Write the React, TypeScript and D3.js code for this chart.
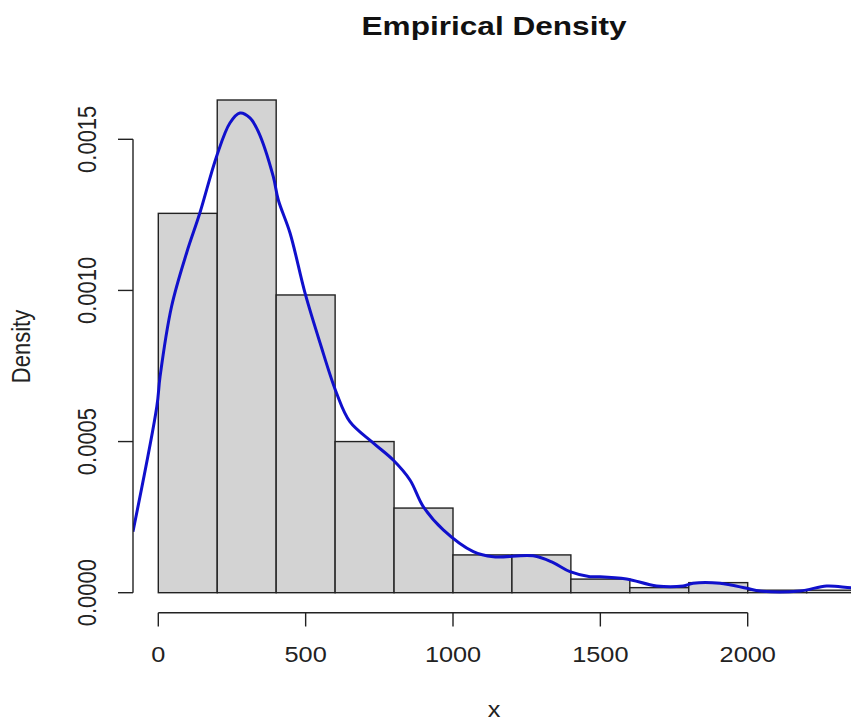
import React from "react";
import * as d3 from "d3";

// Histogram bins (lower edges) and densities
const binEdges = [0, 200, 400, 600, 800, 1000, 1200, 1400, 1600, 1800, 2000, 2200, 2400];
const binDensity = [0.001255, 0.00163, 0.000985, 0.0005, 0.00028, 0.000125, 0.000125, 0.000045, 0.0000167, 0.0000333, 0.0000083, 0.0000083];

// Kernel density estimate
const densityX = [-86, -5, 6, 45, 96, 141, 198, 243, 277, 311, 339, 390, 407, 447, 498, 549, 605, 650, 730, 797, 854, 899, 967, 1069, 1137, 1272, 1340, 1397, 1465, 1499, 1589, 1691, 1781, 1815, 1906, 1997, 2042, 2178, 2268, 2350, 2400];
const densityY = [0.000202, 0.000616, 0.000715, 0.000947, 0.001124, 0.001256, 0.001444, 0.001554, 0.001587, 0.001571, 0.001526, 0.001377, 0.0013, 0.00119, 0.000991, 0.000826, 0.00066, 0.000566, 0.000495, 0.000439, 0.000373, 0.000285, 0.000208, 0.000136, 0.000119, 0.000122, 0.0000993, 0.0000695, 0.000053, 0.000053, 0.0000454, 0.0000222, 0.0000222, 0.0000311, 0.0000311, 0.0000146, 0.0000056, 0.0000056, 0.0000222, 0.0000166, 0.000016];

const xTicks = [0, 500, 1000, 1500, 2000];
const yTicks = [0, 0.0005, 0.001, 0.0015];
const yTickLabels = ["0.0000", "0.0005", "0.0010", "0.0015"];

const title = "Empirical Density";
const xLabel = "x";
const yLabel = "Density";

export default function App() {
  const W = 851;
  const H = 720;
  const x = d3.scaleLinear().domain([0, 2000]).range([158.3, 747.7]);
  const y = d3.scaleLinear().domain([0, 0.0015]).range([592.7, 139.3]);
  const plotLeft = 133;
  const font = "'Liberation Sans', Arial, sans-serif";
  const sx = 1.15;

  const line = d3
    .line<number>()
    .x((_, i) => x(densityX[i]))
    .y((d) => y(d))
    .curve(d3.curveCatmullRom.alpha(0.5));

  return (
    <svg
      width={W}
      height={H}
      style={{ position: "absolute", left: 0, top: 0, background: "#fff" }}
      fontFamily={font}
    >
      <defs>
        <clipPath id="plotClip">
          <rect x={plotLeft} y={60} width={W - plotLeft} height={560} />
        </clipPath>
      </defs>
      <rect x={0} y={0} width={W} height={H} fill="#fff" />
      {/* bars */}
      <g clipPath="url(#plotClip)">
        {binDensity.map((d, i) => (
          <rect
            key={i}
            x={x(binEdges[i])}
            y={y(d)}
            width={x(binEdges[i + 1]) - x(binEdges[i])}
            height={y(0) - y(d)}
            fill="#d3d3d3"
            stroke="#222"
            strokeWidth={1.4}
          />
        ))}
        <path d={line(densityY) || ""} fill="none" stroke="#1010cc" strokeWidth={3} strokeLinejoin="round" />
      </g>
      {/* y axis */}
      <g stroke="#222" strokeWidth={1.4}>
        <line x1={plotLeft} x2={plotLeft} y1={y(0.0015)} y2={y(0)} />
        {yTicks.map((t) => (
          <line key={t} x1={plotLeft - 15} x2={plotLeft} y1={y(t)} y2={y(t)} />
        ))}
      </g>
      {yTicks.map((t, i) => (
        <text
          key={t}
          transform={`translate(96,${y(t)}) scale(${sx},1) rotate(-90)`}
          textAnchor="middle"
          fontSize={22}
          fill="#222"
        >
          {yTickLabels[i]}
        </text>
      ))}
      {/* x axis */}
      <g stroke="#222" strokeWidth={1.4}>
        <line x1={x(0)} x2={x(2000)} y1={612.7} y2={612.7} />
        {xTicks.map((t) => (
          <line key={t} x1={x(t)} x2={x(t)} y1={612.7} y2={626.5} />
        ))}
      </g>
      {xTicks.map((t) => (
        <text
          key={t}
          transform={`translate(${x(t)},661.5) scale(${sx},1)`}
          textAnchor="middle"
          fontSize={22}
          fill="#222"
        >
          {t}
        </text>
      ))}
      {/* labels */}
      <text transform={`translate(494,716.5) scale(${sx},1)`} textAnchor="middle" fontSize={22} fill="#222">
        {xLabel}
      </text>
      <text transform={`translate(30,346.5) scale(${sx},1) rotate(-90)`} textAnchor="middle" fontSize={22} fill="#222">
        {yLabel}
      </text>
      <text
        x={494}
        y={35}
        textAnchor="middle"
        fontSize={25}
        fontWeight="bold"
        fill="#111"
        textLength={265}
        lengthAdjust="spacingAndGlyphs"
      >
        {title}
      </text>
    </svg>
  );
}
